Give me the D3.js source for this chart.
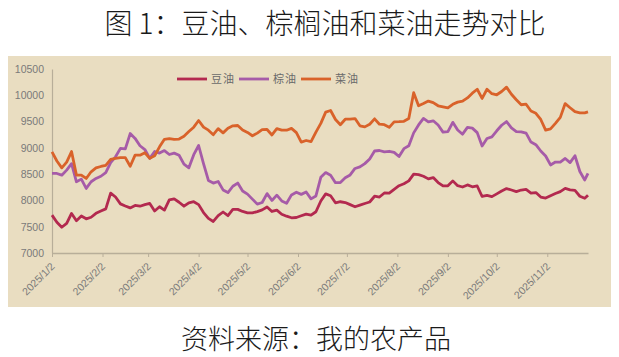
<!DOCTYPE html>
<html><head><meta charset="utf-8">
<script src="https://cdn.jsdelivr.net/npm/d3@7"></script>
<style>body{margin:0;background:#fff}svg{display:block}</style>
</head><body><svg id="c" width="619" height="357"></svg>
<script>
const dates = [
"2025-01-02","2025-01-05","2025-01-08","2025-01-11","2025-01-14","2025-01-17","2025-01-20","2025-01-23","2025-01-26","2025-01-29",
"2025-02-01","2025-02-04","2025-02-07","2025-02-10","2025-02-13","2025-02-16","2025-02-19","2025-02-22","2025-02-25","2025-02-28",
"2025-03-03","2025-03-06","2025-03-09","2025-03-12","2025-03-15","2025-03-18","2025-03-21","2025-03-24","2025-03-27","2025-03-30",
"2025-04-02","2025-04-05","2025-04-08","2025-04-11","2025-04-14","2025-04-17","2025-04-20","2025-04-23","2025-04-26","2025-04-29",
"2025-05-02","2025-05-05","2025-05-08","2025-05-11","2025-05-14","2025-05-17","2025-05-20","2025-05-23","2025-05-26","2025-05-29",
"2025-06-01","2025-06-04","2025-06-07","2025-06-10","2025-06-13","2025-06-16","2025-06-19","2025-06-22","2025-06-25","2025-06-28",
"2025-07-01","2025-07-04","2025-07-07","2025-07-10","2025-07-13","2025-07-16","2025-07-19","2025-07-22","2025-07-25","2025-07-28",
"2025-07-31","2025-08-03","2025-08-06","2025-08-09","2025-08-12","2025-08-15","2025-08-18","2025-08-21","2025-08-24","2025-08-27",
"2025-08-30","2025-09-02","2025-09-05","2025-09-08","2025-09-11","2025-09-14","2025-09-17","2025-09-20","2025-09-23","2025-09-26",
"2025-09-29","2025-10-02","2025-10-05","2025-10-08","2025-10-11","2025-10-14","2025-10-17","2025-10-20","2025-10-23","2025-10-26",
"2025-10-29","2025-11-01","2025-11-04","2025-11-07","2025-11-10","2025-11-13","2025-11-16","2025-11-19","2025-11-22","2025-11-25",
"2025-11-27"];
const soybeanOil = [
7721,7585,7490,7563,7753,7615,7705,7650,7680,7755,
7800,7840,8140,8065,7935,7895,7858,7905,7890,7920,
7943,7800,7880,7816,8010,8030,7965,7890,7955,7975,
7920,7770,7658,7600,7710,7780,7710,7830,7830,7790,
7765,7763,7788,7820,7875,7790,7815,7737,7700,7670,
7675,7708,7740,7720,7785,7990,8125,8090,7955,7975,
7960,7920,7880,7910,7942,7970,8080,8065,8142,8140,
8212,8280,8316,8372,8500,8490,8460,8410,8435,8340,
8275,8278,8372,8280,8255,8295,8260,8275,8075,8095,
8072,8125,8180,8226,8198,8168,8198,8210,8138,8150,
8065,8044,8090,8133,8168,8228,8200,8190,8080,8040,
8100];
const palmOil = [
8513,8513,8480,8576,8700,8355,8405,8228,8355,8418,
8460,8530,8720,8830,8990,8980,9272,9180,9040,8968,
8800,8930,8900,8948,8874,8900,8860,8690,8620,8870,
9045,8700,8380,8330,8360,8200,8150,8270,8330,8180,
8120,8025,7930,7960,8130,8000,8100,7990,7946,8105,
8155,8115,8160,8030,8085,8440,8530,8480,8337,8340,
8430,8485,8608,8638,8700,8790,8940,8950,8925,8935,
8915,8835,8985,9040,9285,9436,9560,9494,9515,9435,
9300,9310,9485,9340,9260,9390,9375,9290,9035,9177,
9210,9325,9430,9500,9380,9310,9304,9280,9110,9060,
8940,8845,8675,8730,8730,8798,8720,8850,8550,8390,
8513];
const rapeseedOil = [
8924,8750,8620,8730,8930,8481,8481,8418,8545,8618,
8646,8668,8780,8800,8815,8815,8650,8861,8861,8907,
8800,8850,9020,9163,9177,9160,9168,9220,9310,9393,
9520,9395,9336,9250,9365,9285,9375,9420,9425,9340,
9294,9230,9280,9345,9350,9245,9366,9336,9336,9370,
9290,9110,9140,9118,9300,9465,9680,9710,9540,9440,
9545,9545,9557,9420,9399,9450,9552,9450,9440,9390,
9494,9498,9505,9557,10050,9800,9843,9890,9860,9800,
9779,9760,9828,9870,9888,9950,10040,10115,9940,10115,
10030,10010,10072,10155,10020,9915,9820,9830,9700,9658,
9540,9336,9360,9466,9580,9842,9763,9688,9665,9665,
9684];
const legendNames = ["豆油","棕油","菜油"];
const yTicks = [7000,7500,8000,8500,9000,9500,10000,10500];
const xTickLabels = ["2025/1/2","2025/2/2","2025/3/2","2025/4/2","2025/5/2","2025/6/2","2025/7/2","2025/8/2","2025/9/2","2025/10/2","2025/11/2"];
const titleText = "图 1：豆油、棕榈油和菜油走势对比";
const sourceText = "资料来源：我的农产品";

const colors = ["#B3294F","#A65BA8","#D9622A"];
const svg = d3.select("#c");
const parse = d3.timeParse("%Y-%m-%d");
const parseTick = d3.timeParse("%Y/%m/%d");
const dd = dates.map(parse);

svg.append("rect").attr("width",619).attr("height",357).attr("fill","#fff");
svg.append("rect").attr("x",8).attr("y",56).attr("width",603).attr("height",251).attr("fill","#E9DDC1");

const x = d3.scaleTime().domain([dd[0], dd[dd.length-1]]).range([52,588]);
const y = d3.scaleLinear().domain([7000,10500]).range([253,69]);

const axisColor = "#B8AE99";
const labelColor = "#7A7A7A";

// y axis
const yAxis = svg.append("g").attr("transform","translate(52,0)")
  .call(d3.axisLeft(y).tickValues(yTicks).tickSize(0).tickPadding(8).tickFormat(d3.format("d")));
yAxis.select(".domain").attr("stroke",axisColor).attr("stroke-width",1.2);
yAxis.selectAll("text").attr("fill",labelColor).attr("font-family","Liberation Sans, Arial, sans-serif").attr("font-size",10.5);

// x axis
const xAxis = svg.append("g").attr("transform","translate(0,253)")
  .call(d3.axisBottom(x).tickValues(xTickLabels.map(parseTick)).tickSize(4).tickSizeOuter(0)
    .tickFormat((d,i)=>xTickLabels[i]));
xAxis.select(".domain").attr("stroke",axisColor).attr("stroke-width",1.5);
xAxis.selectAll(".tick line").attr("stroke",axisColor);
xAxis.selectAll("text").attr("fill",labelColor).attr("font-family","Liberation Sans, Arial, sans-serif").attr("font-size",10.5)
  .attr("text-anchor","end").attr("dy",0).attr("y",0)
  .attr("transform","translate(3,14) rotate(-45)");

// lines
const series = [soybeanOil, palmOil, rapeseedOil];
const line = d3.line().x((d,i)=>x(dd[i])).y(d=>y(d));
series.forEach((s,k)=>{
  svg.append("path").datum(s).attr("d",line).attr("fill","none")
    .attr("stroke",colors[k]).attr("stroke-width",2.8).attr("stroke-linejoin","round");
});

// legend
const legX = [177,239,301];
legendNames.forEach((n,k)=>{
  svg.append("line").attr("x1",legX[k]).attr("x2",legX[k]+30).attr("y1",79).attr("y2",79)
    .attr("stroke",colors[k]).attr("stroke-width",2.8);
  svg.append("text").attr("x",legX[k]+34).attr("y",83).text(n)
    .attr("font-family","Noto Sans CJK SC").attr("font-size",11).attr("fill","#6A6A6A").attr("letter-spacing",1);
});

// title & source
svg.append("text").attr("x",325).attr("y",34).attr("text-anchor","middle").text(titleText)
  .attr("font-family","Noto Sans CJK SC").attr("font-weight",300).attr("font-size",28).attr("fill","#1a1a1a");
svg.append("text").attr("x",316).attr("y",349).attr("text-anchor","middle").text(sourceText)
  .attr("font-family","Noto Sans CJK SC").attr("font-weight",300).attr("font-size",27).attr("fill","#1a1a1a");
</script></body></html>
